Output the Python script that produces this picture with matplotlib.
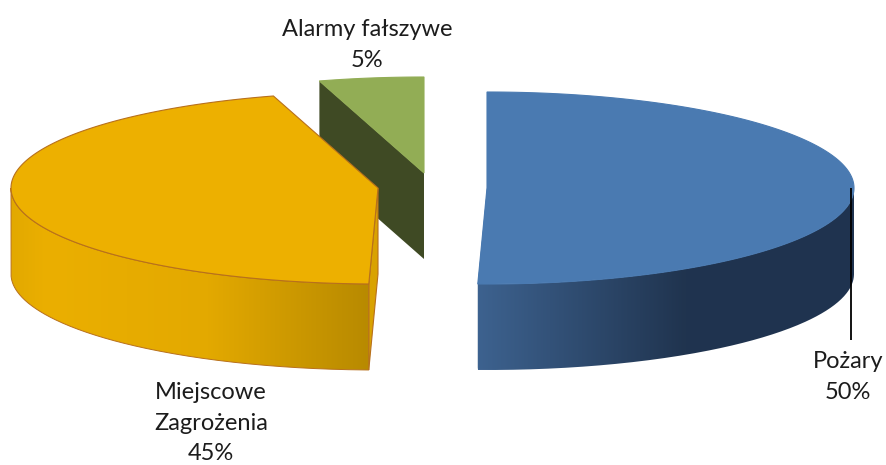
import matplotlib
matplotlib.use("Agg")
import matplotlib.pyplot as plt
import numpy as np
from matplotlib.colors import LinearSegmentedColormap
from matplotlib.patches import PathPatch, Polygon
from matplotlib.path import Path

plt.rcParams["font.family"] = ["Lato", "DejaVu Sans"]

# shares, labels show them rounded
names = ["Pożary", "Miejscowe\nZagrożenia", "Alarmy fałszywe"]
shares = [50.4, 45.0, 4.6]

W, H = 886, 465
RX, RY, DEPTH = 367, 96, 86
centres = [(487, 188), (378, 188), (424, 173)]
label_pos = [(848, 377), (211, 423), (367, 45)]
top_cols = ["#4A7AB1", "#EDB000", "#92AD55"]
cut_cols = ["#35587F", "#D9A200", "#3F4A24"]
edge_cols = [None, "#B8701C", None]
side_stops = [
    [(0.0, "#3D628F"), (0.55, "#20344F"), (1.0, "#1F3350")],
    [(0.0, "#E2A900"), (0.1, "#EBAF00"), (0.55, "#E3A900"), (1.0, "#B88A00")],
    None,
]


def rim(cx, cy, a0, a1, n=200):
    t = np.radians(np.linspace(a0, a1, n))
    return np.column_stack([cx + RX * np.sin(t), cy - RY * np.cos(t)])


fig = plt.figure(figsize=(W / 100, H / 100), dpi=100)
ax = fig.add_axes([0, 0, 1, 1])
ax.axis("off")

starts = np.cumsum([0] + shares[:-1]) * 3.6
sweeps = np.array(shares) * 3.6

# back to front: green, orange, blue
for i in [2, 1, 0]:
    cx, cy = centres[i]
    a0, a1 = starts[i], starts[i] + sweeps[i]
    arc = rim(cx, cy, a0, a1)
    apex = np.array([cx, cy])
    down = np.array([0, DEPTH])
    z = (2 - i) * 3

    # cut face on the side that shows
    if i == 2:
        cut = np.array([arc[0], apex, apex + down, arc[0] + down])
    else:
        p = arc[-1] if i == 0 else arc[0]
        cut = np.array([apex, p, p + down, apex + down])
    ax.add_patch(Polygon(cut, closed=True, fc=cut_cols[i], ec=edge_cols[i] or "none", lw=0.8, zorder=z))

    # outer wall, gradient clipped to it
    if side_stops[i] is not None:
        wall = rim(cx, cy, max(a0, 90), min(a1, 270))
        poly = np.vstack([wall, (wall + down)[::-1]])
        patch = PathPatch(Path(np.vstack([poly, poly[0]])), fc="none", ec=edge_cols[i] or "none", lw=0.7, zorder=z + 1.5)
        ax.add_patch(patch)
        cmap = LinearSegmentedColormap.from_list("side", side_stops[i])
        grad = np.linspace(0, 1, 256)[None, :]
        im = ax.imshow(grad, cmap=cmap, aspect="auto", zorder=z + 1,
                       extent=(poly[:, 0].min(), poly[:, 0].max(), poly[:, 1].max(), poly[:, 1].min()))
        im.set_clip_path(patch)

    # top face
    ax.add_patch(Polygon(np.vstack([apex, arc]), closed=True, fc=top_cols[i],
                         ec=edge_cols[i] or top_cols[i], lw=0.8, zorder=z + 2))

ax.set_xlim(0, W)
ax.set_ylim(H, 0)

# leader line for the first slice
ax.plot([851, 851], [188, 340], color="black", lw=1.3, zorder=20, solid_capstyle="butt")

for name, share, (x, y) in zip(names, shares, label_pos):
    ax.text(x, y, f"{name}\n{round(share)}%", ha="center", va="center", fontsize=17,
            color="#1c1c1c", linespacing=1.56, zorder=21)

fig.savefig("out.png", dpi=100)
